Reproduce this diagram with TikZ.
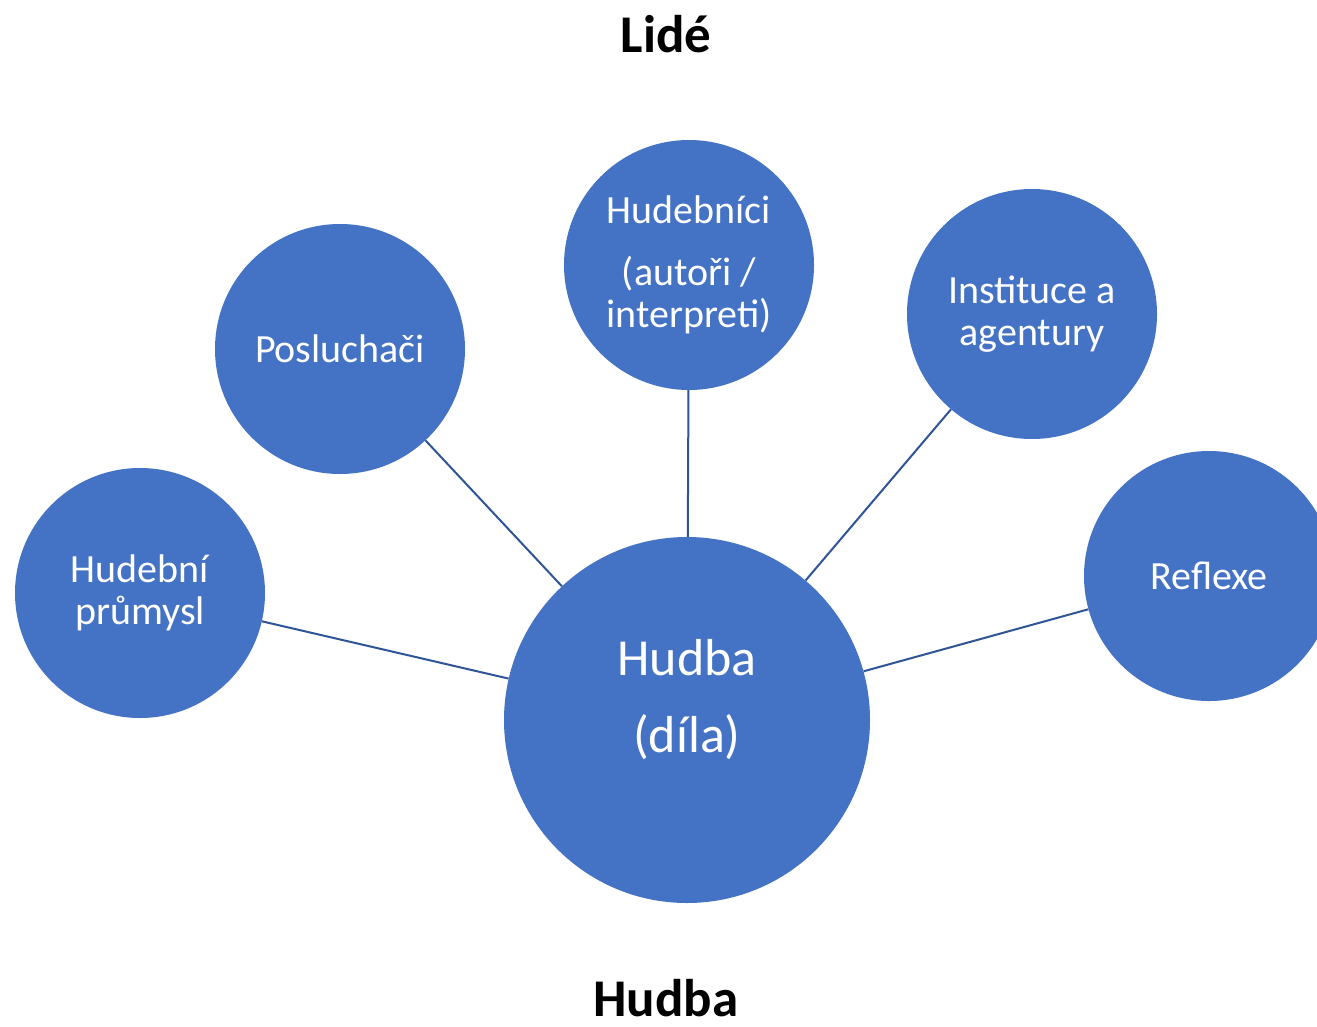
\documentclass[tikz,border=0pt]{standalone}
\usepackage{fontspec}
\setmainfont{Carlito}
\definecolor{bubblefill}{HTML}{4472C4}
\definecolor{linkblue}{HTML}{2F5597}
\tikzset{
  bubble/.style={circle,fill=bubblefill,text=white,align=center,inner sep=0pt,minimum size=250pt,font=\fontsize{40}{42}\selectfont},
  bigbubble/.style={bubble,minimum size=366pt,font=\fontsize{52}{77}\selectfont},
  heading/.style={inner sep=0pt,font=\fontsize{53}{56}\selectfont\bfseries},
  link/.style={draw=linkblue,line width=2pt}
}
\begin{document}
\begin{tikzpicture}[x=1pt,y=-1pt]
\useasboundingbox (0,0) rectangle (1317,1026);
\clip (0,0) rectangle (1317,1026);
\fill[white] (0,0) rectangle (1317,1026);
\node[heading,anchor=base] (lide) at (666,52) {Lidé};
\node[heading,anchor=base] (hudbatitle) at (666,1016) {Hudba};
\node[bigbubble,text depth=49pt] (hudba) at (687,720) {Hudba\\(díla)};
\node[bubble] (prumysl) at (140,593) {Hudební\\průmysl};
\node[bubble] (posluchaci) at (340,349) {Posluchači};
\node[bubble] (hudebnici) at (689,265) {Hudebníci\\[20pt](autoři /\\interpreti)};
\node[bubble] (instituce) at (1032,314) {Instituce a\\agentury};
\node[bubble] (reflexe) at (1209,576) {Reflexe};
\draw[link] (hudba) -- (prumysl);
\draw[link] (hudba) -- (posluchaci);
\draw[link] (hudba) -- (hudebnici);
\draw[link] (hudba) -- (instituce);
\draw[link] (hudba) -- (reflexe);
\end{tikzpicture}
\end{document}
